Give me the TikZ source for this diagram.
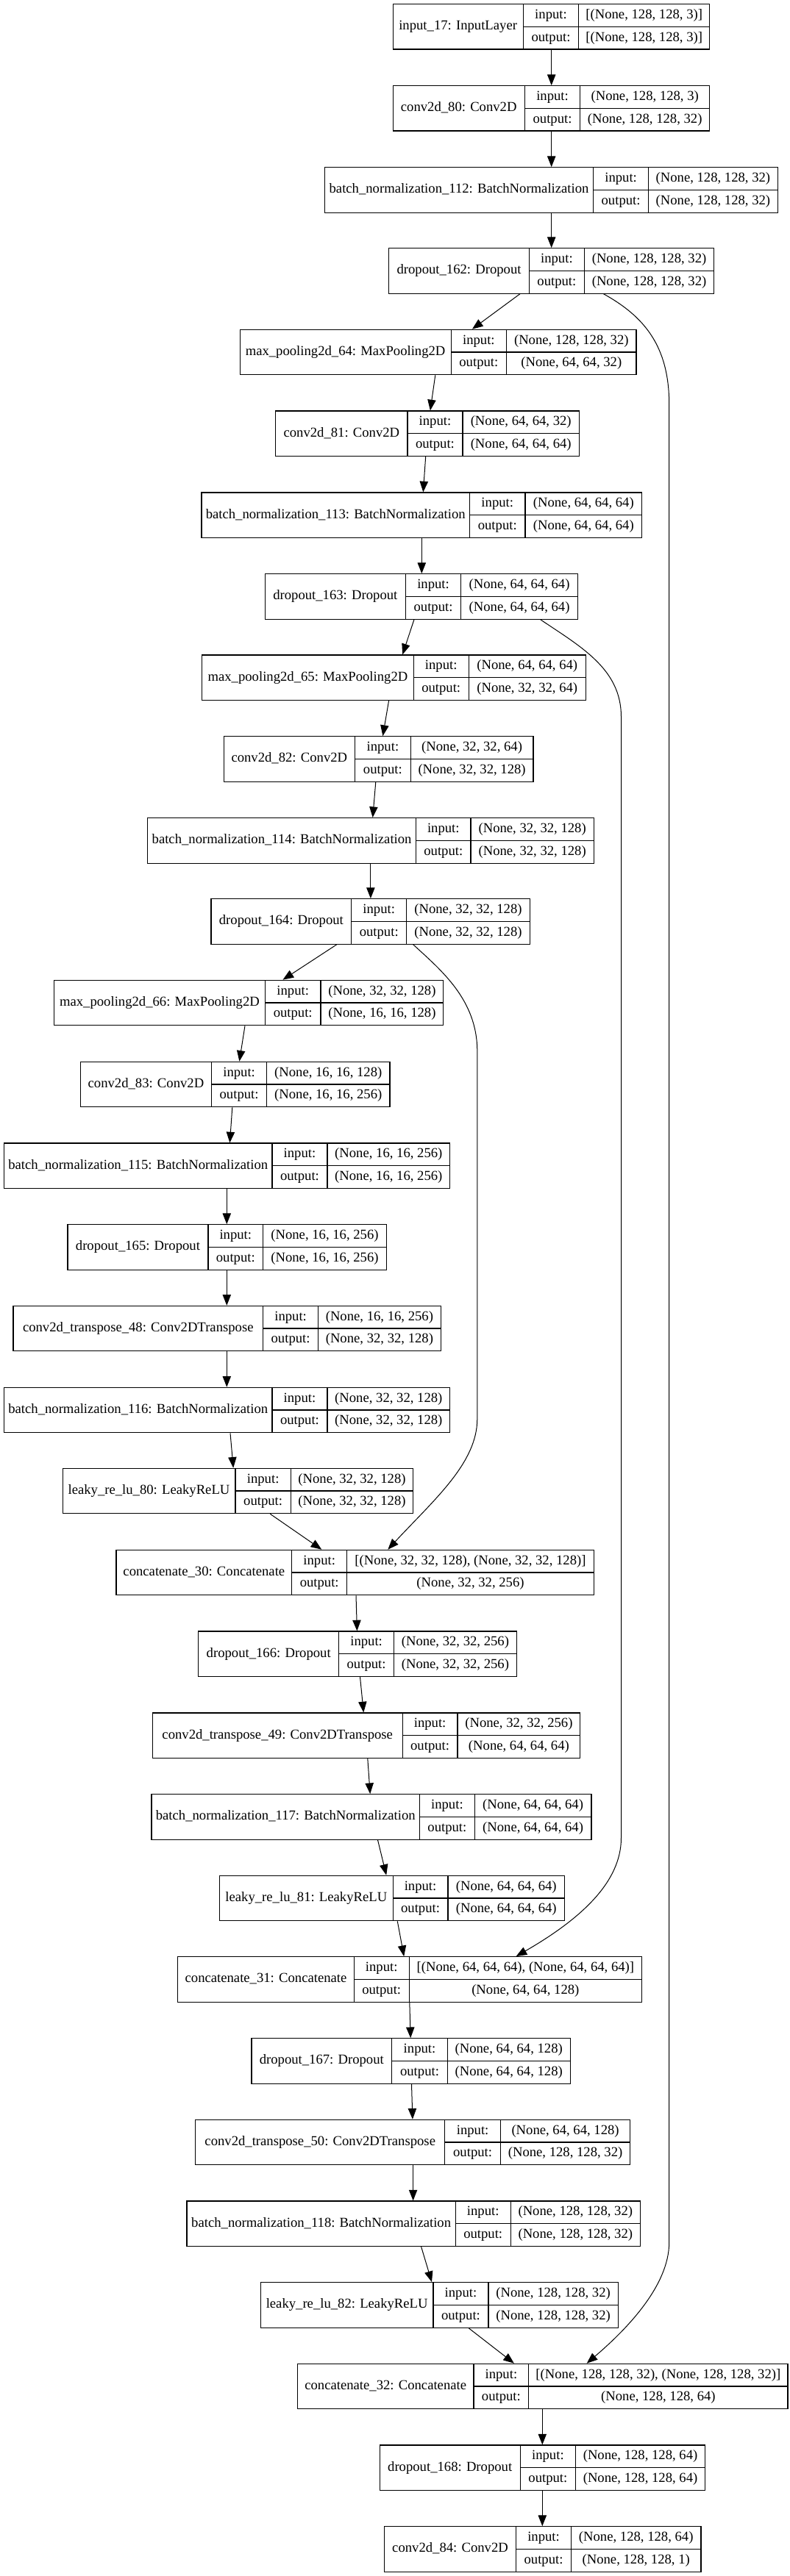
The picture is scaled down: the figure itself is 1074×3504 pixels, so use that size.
\documentclass[tikz,border=0pt]{standalone}
\usepackage{fontspec}
\setmainfont{Liberation Serif}
\usetikzlibrary{arrows.meta,fit}

% one Keras layer: id, left, split1, split2, right, top, label, input, output
\newcommand{\layer}[9]{%
  \node[layerbox, fit={(#2,#6) (#5,#6+61.4)}] (#1) {};
  \draw[cellline] (#3,#6) -- (#3,#6+61.4);
  \draw[cellline] (#4,#6) -- (#4,#6+61.4);
  \draw[cellline] (#3,#6+30.7) -- (#5,#6+30.7);
  \node[txt] (#1-name) at ({(#2+#3)/2},#6+30.7) {#7};
  \node[txt] (#1-in)   at ({(#3+#4)/2},#6+15.35) {input:};
  \node[txt] (#1-out)  at ({(#3+#4)/2},#6+46.05) {output:};
  \node[txt] (#1-inv)  at ({(#4+#5)/2},#6+15.35) {#8};
  \node[txt] (#1-outv) at ({(#4+#5)/2},#6+46.05) {#9};
}
\newcommand{\flow}[4]{\draw[edge] (#1.south -| #2,0) -- (#3.north -| #4,0);}

\begin{document}
\begin{tikzpicture}[
        x=0.75pt, y=-0.75pt,
        layerbox/.style={draw=black, line width=0.9pt, inner sep=0pt},
        cellline/.style={draw=black, line width=0.9pt},
        txt/.style={inner sep=0pt, text height=9.8pt, text depth=3.2pt, font=\fontsize{14}{16}\selectfont},
        edge/.style={draw=black, line width=0.75pt, -{Triangle[length=11pt,width=8.5pt]}},
        ]
        \useasboundingbox[fill=white] (0,0) rectangle (1074,3504);

        % Encoder
        \layer{input17}{534.1}{711.2}{786.8}{964.6}{5.7}{input\_17: InputLayer}{[(None, 128, 128, 3)]}{[(None, 128, 128, 3)]}
        \layer{conv80}{534.1}{713.3}{788.8}{964.6}{116.7}{conv2d\_80: Conv2D}{(None, 128, 128, 3)}{(None, 128, 128, 32)}
        \layer{bn112}{441.4}{806.7}{881.5}{1057.3}{227.7}{batch\_normalization\_112: BatchNormalization}{(None, 128, 128, 32)}{(None, 128, 128, 32)}
        \layer{drop162}{528.6}{719.5}{794.3}{970.8}{337.7}{dropout\_162: Dropout}{(None, 128, 128, 32)}{(None, 128, 128, 32)}
        \layer{pool64}{326.1}{613.1}{688.6}{865.0}{448.3}{max\_pooling2d\_64: MaxPooling2D}{(None, 128, 128, 32)}{(None, 64, 64, 32)}
        \layer{conv81}{374.8}{554.0}{628.9}{787.5}{559}{conv2d\_81: Conv2D}{(None, 64, 64, 32)}{(None, 64, 64, 64)}
        \layer{bn113}{273.9}{638.5}{714.0}{872.6}{670}{batch\_normalization\_113: BatchNormalization}{(None, 64, 64, 64)}{(None, 64, 64, 64)}
        \layer{drop163}{360.4}{551.3}{626.8}{785.4}{780.7}{dropout\_163: Dropout}{(None, 64, 64, 64)}{(None, 64, 64, 64)}
        \layer{pool65}{274.6}{562.3}{637.1}{796.4}{891}{max\_pooling2d\_65: MaxPooling2D}{(None, 64, 64, 64)}{(None, 32, 32, 64)}
        \layer{conv82}{304.1}{482.6}{558.2}{725.0}{1001.7}{conv2d\_82: Conv2D}{(None, 32, 32, 64)}{(None, 32, 32, 128)}
        \layer{bn114}{200.5}{565.7}{639.9}{807.4}{1112.7}{batch\_normalization\_114: BatchNormalization}{(None, 32, 32, 128)}{(None, 32, 32, 128)}
        \layer{drop164}{287}{477.8}{552.7}{720.2}{1222.7}{dropout\_164: Dropout}{(None, 32, 32, 128)}{(None, 32, 32, 128)}
        \layer{pool66}{73.5}{360.4}{436.0}{602.8}{1333.3}{max\_pooling2d\_66: MaxPooling2D}{(None, 32, 32, 128)}{(None, 16, 16, 128)}
        \layer{conv83}{109.2}{287.7}{362.5}{530}{1444.3}{conv2d\_83: Conv2D}{(None, 16, 16, 128)}{(None, 16, 16, 256)}
        \layer{bn115}{5.5}{370}{444.9}{611.7}{1555}{batch\_normalization\_115: BatchNormalization}{(None, 16, 16, 256)}{(None, 16, 16, 256)}
        \layer{drop165}{92}{282.9}{357.7}{525.2}{1665.7}{dropout\_165: Dropout}{(None, 16, 16, 256)}{(None, 16, 16, 256)}

        % Decoder
        \layer{convT48}{17.9}{357.7}{432.5}{599.3}{1776.3}{conv2d\_transpose\_48: Conv2DTranspose}{(None, 16, 16, 256)}{(None, 32, 32, 128)}
        \layer{bn116}{5.5}{370}{444.9}{611.7}{1887.3}{batch\_normalization\_116: BatchNormalization}{(None, 32, 32, 128)}{(None, 32, 32, 128)}
        \layer{lrelu80}{85.1}{319.9}{395.4}{561.6}{1997.3}{leaky\_re\_lu\_80: LeakyReLU}{(None, 32, 32, 128)}{(None, 32, 32, 128)}
        \layer{cat30}{157.9}{396.8}{471.6}{807.4}{2108.3}{concatenate\_30: Concatenate}{[(None, 32, 32, 128), (None, 32, 32, 128)]}{(None, 32, 32, 256)}
        \layer{drop166}{269.8}{460.7}{535.5}{702.3}{2219}{dropout\_166: Dropout}{(None, 32, 32, 256)}{(None, 32, 32, 256)}
        \layer{convT49}{207.3}{547.2}{622}{788.8}{2330}{conv2d\_transpose\_49: Conv2DTranspose}{(None, 32, 32, 256)}{(None, 64, 64, 64)}
        \layer{bn117}{206}{570.5}{645.3}{803.9}{2440.7}{batch\_normalization\_117: BatchNormalization}{(None, 64, 64, 64)}{(None, 64, 64, 64)}
        \layer{lrelu81}{298.6}{534.1}{609}{767.5}{2551.3}{leaky\_re\_lu\_81: LeakyReLU}{(None, 64, 64, 64)}{(None, 64, 64, 64)}
        \layer{cat31}{241.7}{481.3}{556.1}{872.6}{2661.7}{concatenate\_31: Concatenate}{[(None, 64, 64, 64), (None, 64, 64, 64)]}{(None, 64, 64, 128)}
        \layer{drop167}{341.9}{532.7}{608.3}{775.1}{2772.7}{dropout\_167: Dropout}{(None, 64, 64, 128)}{(None, 64, 64, 128)}
        \layer{convT50}{265.7}{604.8}{680.4}{856.8}{2883.3}{conv2d\_transpose\_50: Conv2DTranspose}{(None, 64, 64, 128)}{(None, 128, 128, 32)}
        \layer{bn118}{254}{619.3}{694.1}{870.5}{2994}{batch\_normalization\_118: BatchNormalization}{(None, 128, 128, 32)}{(None, 128, 128, 32)}
        \layer{lrelu82}{354.3}{589}{663.9}{840.3}{3104.7}{leaky\_re\_lu\_82: LeakyReLU}{(None, 128, 128, 32)}{(None, 128, 128, 32)}
        \layer{cat32}{404.4}{644}{718.8}{1071}{3215.3}{concatenate\_32: Concatenate}{[(None, 128, 128, 32), (None, 128, 128, 32)]}{(None, 128, 128, 64)}
        \layer{drop168}{516.3}{707.1}{782.7}{958.4}{3326}{dropout\_168: Dropout}{(None, 128, 128, 64)}{(None, 128, 128, 64)}
        \layer{conv84}{522.5}{701.6}{776.5}{952.9}{3436.7}{conv2d\_84: Conv2D}{(None, 128, 128, 64)}{(None, 128, 128, 1)}

        % Main path
        \flow{input17}{749.7}{conv80}{749.7}
        \flow{conv80}{749.7}{bn112}{749.7}
        \flow{bn112}{749.7}{drop162}{749.7}
        \flow{drop162}{707}{pool64}{641.9}
        \flow{pool64}{591.8}{conv81}{584.9}
        \flow{conv81}{578.7}{bn113}{575.3}
        \flow{bn113}{573.3}{drop163}{573.3}
        \flow{drop163}{563}{pool65}{547.2}
        \flow{pool65}{528.6}{conv82}{520.4}
        \flow{conv82}{510.8}{bn114}{506.7}
        \flow{bn114}{503.9}{drop164}{503.9}
        \flow{drop164}{457.9}{pool66}{384.5}
        \flow{pool66}{333}{conv83}{325.4}
        \flow{conv83}{315.8}{bn115}{312.4}
        \flow{bn115}{308.3}{drop165}{308.3}
        \flow{drop165}{308.3}{convT48}{308.3}
        \flow{convT48}{308.3}{bn116}{308.3}
        \flow{bn116}{313}{lrelu80}{317.2}
        \flow{lrelu80}{367.3}{cat30}{437.3}
        \flow{cat30}{484}{drop166}{485.4}
        \flow{drop166}{489.5}{convT49}{494.3}
        \flow{convT49}{499.8}{bn117}{503.2}
        \flow{bn117}{513.5}{lrelu81}{525.2}
        \flow{lrelu81}{540.3}{cat31}{549.2}
        \flow{cat31}{556.8}{drop167}{558.2}
        \flow{drop167}{559.5}{convT50}{560.9}
        \flow{convT50}{561.6}{bn118}{561.6}
        \flow{bn118}{572.6}{lrelu82}{587}
        \flow{lrelu82}{637.1}{cat32}{698.9}
        \flow{cat32}{737.3}{drop168}{737.3}
        \flow{drop168}{737.3}{conv84}{737.3}

        % Skip connections
        \draw[edge] (drop162.south -| 820.4,0) .. controls (875,430) and (909.7,470) .. (909.7,550)
            -- (909.7,3050) .. controls (909.7,3110) and (850,3170) .. (cat32.north -| 797.7,0);
        \draw[edge] (drop163.south -| 734.6,0) .. controls (790,880) and (844.5,910) .. (844.5,975)
            -- (844.5,2500) .. controls (844.5,2560) and (790,2610) .. (cat31.north -| 701.6,0);
        \draw[edge] (drop164.south -| 561.6,0) .. controls (600,1320) and (648.8,1360) .. (648.8,1430)
            -- (648.8,1930) .. controls (648.8,1990) and (590,2040) .. (cat30.north -| 527.3,0);

    \end{tikzpicture}
\end{document}
